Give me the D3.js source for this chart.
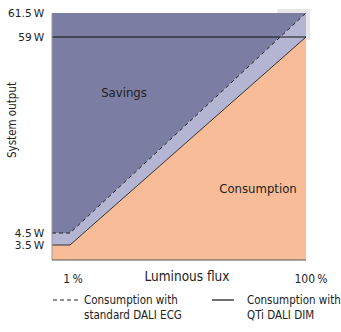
<!DOCTYPE html>
<html>
<head>
<meta charset="utf-8">
<script src="https://cdn.jsdelivr.net/npm/d3@7"></script>
<style>
  html, body { margin: 0; padding: 0; background: #fff; }
  svg text { font-family: "DejaVu Sans Condensed", "Liberation Sans", Arial, sans-serif; fill: #222; }
</style>
</head>
<body>
<svg id="chart" width="341" height="332"></svg>
<script>
// Luminous flux levels (% of full output) where the power curves change slope
const fluxLevels = [0, 1, 100];
// System power (W) for a standard DALI ECG at each flux level
const standardPower = [4.5, 4.5, 61.5];
// System power (W) for a QTi DALI DIM ECG at each flux level
const qtiPower = [3.5, 3.5, 59];
// Power values labelled on the vertical axis
const powerTicks = [61.5, 59, 4.5, 3.5];
const powerTickLabels = ["61.5\u2009W", "59\u2009W", "4.5\u2009W", "3.5\u2009W"];
// Flux values labelled on the horizontal axis
const fluxTicks = [1, 100];
const fluxTickLabels = ["1\u2009%", "100\u2009%"];

const svg = d3.select("#chart");

// Schematic (piecewise) scales: the low-power region is stretched for legibility
const x = d3.scaleLinear().domain([0, 1, 100]).range([52, 70, 306]);
const y = d3.scaleLinear().domain([0, 3.5, 4.5, 59, 61.5]).range([260, 245, 233, 37, 13]);

const colors = {
  savings: "#7b7da3",
  band: "#b4b5d2",
  consumption: "#f8bd98",
  shade: "#e6e6e6"
};

const standardPts = fluxLevels.map((f, i) => [f, standardPower[i]]);
const qtiPts = fluxLevels.map((f, i) => [f, qtiPower[i]]);

const line = d3.line().x(d => x(d[0])).y(d => y(d[1]));
const areaTop = d3.area().x(d => x(d[0])).y0(y(61.5)).y1(d => y(d[1]));
const areaBottom = d3.area().x(d => x(d[0])).y0(y(0)).y1(d => y(d[1]));

// light drop shade behind the top-right corner
svg.append("path")
  .attr("d", `M${x(88)},${y(61.5) - 4}H${x(100) + 4}V${y(59) + 3}H${x(100)}V${y(61.5)}H${x(88)}Z`)
  .attr("fill", colors.shade);

// savings region above the standard ECG curve
svg.append("path").datum(standardPts).attr("d", areaTop).attr("fill", colors.savings);
// band between the two curves
svg.append("path").datum(standardPts).attr("d", areaBottom).attr("fill", colors.band);
// consumption region under the QTi curve
svg.append("path").datum(qtiPts).attr("d", areaBottom).attr("fill", colors.consumption);

// 59 W reference line
svg.append("line")
  .attr("x1", x(0)).attr("x2", x(100))
  .attr("y1", y(59)).attr("y2", y(59))
  .attr("stroke", "#111").attr("stroke-width", 1.2);

// standard ECG curve (dashed)
svg.append("path").datum(standardPts).attr("d", line)
  .attr("fill", "none").attr("stroke", "#222").attr("stroke-width", 1)
  .attr("stroke-dasharray", "4,3");
// QTi curve (solid)
svg.append("path").datum(qtiPts).attr("d", line)
  .attr("fill", "none").attr("stroke", "#333").attr("stroke-width", 1);

// axes
const yAxis = d3.axisLeft(y).tickValues(powerTicks)
  .tickFormat((d, i) => powerTickLabels[i]).tickSize(0).tickPadding(7);
const gy = svg.append("g").attr("transform", `translate(${x(0)},0)`).call(yAxis);
gy.select(".domain").remove();
gy.selectAll("text").attr("font-size", 10.5).attr("fill", "#222")
  .attr("font-family", null)
  .attr("transform", "scale(1.12,1)");

const xAxis = d3.axisBottom(x).tickValues(fluxTicks)
  .tickFormat((d, i) => fluxTickLabels[i]).tickSize(0).tickPadding(14);
const gx = svg.append("g").attr("transform", `translate(0,${y(0)})`).call(xAxis);
gx.select(".domain").remove();
gx.selectAll("text").attr("font-size", 12).attr("fill", "#222")
  .attr("font-family", null);
gx.selectAll(".tick").attr("transform", d => `translate(${x(d) + (d === 1 ? 3 : 5)},0)`);

// axis lines
svg.append("line").attr("x1", x(0)).attr("x2", x(0)).attr("y1", y(61.5)).attr("y2", y(0))
  .attr("stroke", "#9a9a9a").attr("stroke-width", 1);
svg.append("line").attr("x1", x(0)).attr("x2", x(100)).attr("y1", y(0)).attr("y2", y(0))
  .attr("stroke", "#555").attr("stroke-width", 1);

// axis titles
svg.append("text").attr("x", 187).attr("y", 281).attr("text-anchor", "middle")
  .attr("font-size", 13.5).text("Luminous flux");
svg.append("text").attr("transform", "translate(16,120) rotate(-90)")
  .attr("text-anchor", "middle").attr("font-size", 11.5).text("System output");

// region labels
svg.append("text").attr("x", 124).attr("y", 97).attr("text-anchor", "middle")
  .attr("font-size", 13).text("Savings");
svg.append("text").attr("x", 258).attr("y", 193).attr("text-anchor", "middle")
  .attr("font-size", 13).text("Consumption");

// legend
const legend = svg.append("g").attr("font-size", 11.5);
legend.append("line").attr("x1", 53).attr("x2", 80).attr("y1", 300).attr("y2", 300)
  .attr("stroke", "#222").attr("stroke-width", 1).attr("stroke-dasharray", "4,3");
legend.append("text").attr("x", 84).attr("y", 304).text("Consumption with");
legend.append("text").attr("x", 84).attr("y", 319).text("standard DALI ECG");
legend.append("line").attr("x1", 212).attr("x2", 234).attr("y1", 300).attr("y2", 300)
  .attr("stroke", "#222").attr("stroke-width", 1.3);
legend.append("text").attr("x", 247).attr("y", 304).text("Consumption with");
legend.append("text").attr("x", 247).attr("y", 319).text("QTi DALI DIM");
</script>
</body>
</html>
